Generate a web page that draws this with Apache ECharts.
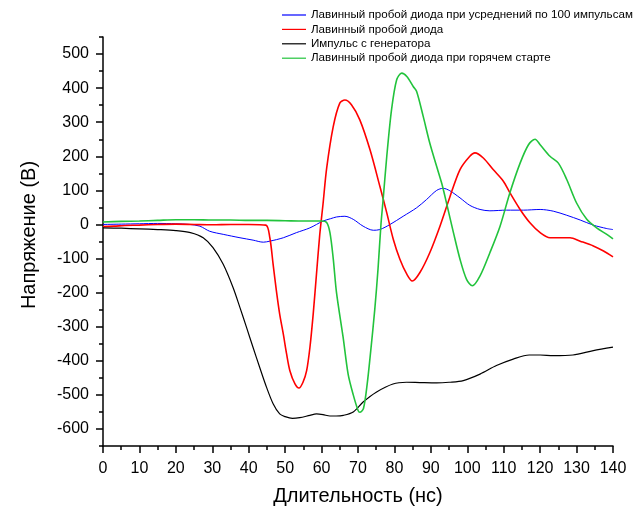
<!DOCTYPE html>
<html>
<head>
<meta charset="utf-8">
<script src="https://cdn.jsdelivr.net/npm/echarts@6/dist/echarts.min.js"></script>
<style>
  html, body { margin: 0; padding: 0; background: #fff; }
  #chart { width: 643px; height: 511px; }
</style>
</head>
<body>
<div id="chart"></div>
<script>
// Series names (legend order)
const seriesNames = [
  'Лавинный пробой диода при усреднений по 100 импульсам',
  'Лавинный пробой диода',
  'Импульс с генератора',
  'Лавинный пробой диода при горячем старте'
];

// Averaged avalanche breakdown (ns, V)
const avgTime = [0, 5, 10, 15, 20, 23.8, 26.6, 29.3, 33, 37.6,
  41.2, 44, 45.8, 49.5, 53.1, 56.8, 60.4, 62.5, 64.1, 66.4,
  68.7, 71.4, 74.2, 76, 78.8, 82.4, 86.1, 88.8, 91.6, 93.4,
  95.2, 98, 100.7, 103.5, 106.2, 110.8, 115.4, 120, 123.6, 127.3,
  131, 134.6, 138.3, 140];
const avgVolt = [0, 1, 2, 3, 2, 0, -5, -20, -29, -39,
  -46, -52, -49, -39, -24, -10, 10, 17, 22, 24,
  15, -5, -17, -15, 0, 24, 49, 73, 100, 106,
  99, 78, 56, 44, 40, 42, 42, 44, 39, 27,
  13, -2, -12, -15];

// Single-shot avalanche breakdown (ns, V)
const diodeTime = [0, 3, 6, 10, 15, 20, 25, 30, 35, 40,
  44.7, 45.8, 46.7, 47.6, 48.5, 49.5, 50.4, 51.3, 52.7, 53.8,
  54.9, 55.9, 56.8, 57.7, 58.6, 59.5, 60.4, 61.4, 63.2, 65,
  66.4, 68.2, 70.5, 73.3, 76, 77.9, 79.7, 81.5, 83.4, 84.9,
  87, 89.7, 92.5, 95.2, 98, 100.7, 102.1, 104.4, 107.1, 109.9,
  111.7, 114.5, 117.2, 120, 122.7, 125.5, 128.2, 131, 134.6, 137.4,
  140];
const diodeVolt = [-6, -5, -3, -2, 0, 1, 0, -1, 0, 0,
  -2, -39, -117, -195, -263, -322, -380, -429, -468, -480,
  -463, -429, -361, -263, -146, -30, 60, 165, 287, 356,
  365, 351, 307, 219, 112, 34, -44, -102, -146, -166,
  -141, -83, -5, 80, 161, 200, 210, 195, 161, 127,
  93, 44, 5, -24, -39, -39, -39, -49, -63, -78,
  -95];

// Generator pulse (ns, V)
const genTime = [0, 5, 10, 15, 20, 24, 27.5, 30.2, 33, 35.7,
  37.6, 39.4, 41.2, 43, 44.9, 46.7, 48.5, 50, 52, 54,
  56.8, 58.6, 60.4, 62.3, 64, 66, 68.7, 71.4, 75, 79.6,
  83.3, 87, 91.6, 95, 98.9, 103.5, 108, 112.6, 117, 120,
  123.6, 129, 134.6, 140];
const genVolt = [-10, -11, -13, -15, -18, -24, -39, -68, -117, -185,
  -244, -302, -361, -419, -478, -526, -556, -564, -569, -567,
  -560, -556, -558, -562, -562, -560, -550, -521, -492, -468,
  -463, -464, -465, -463, -458, -439, -414, -395, -383, -383,
  -385, -383, -370, -360];

// Hot-start avalanche breakdown (ns, V)
const hotTime = [0, 5, 10, 15, 20, 25, 30, 35, 40, 45,
  50, 55, 60, 61.4, 62.3, 63.2, 64.1, 65.9, 67.3, 68.7,
  70, 70.5, 71.5, 72.5, 73.5, 74.6, 75.5, 76.3, 76.9, 77.9,
  79.2, 80.6, 82, 83.4, 85.2, 86.1, 87.9, 89.7, 91.6, 93,
  94.3, 96.2, 98, 99.8, 101.4, 103.5, 106.2, 109, 111.7, 114.5,
  116.8, 118.6, 120, 122.7, 125, 127.3, 130, 132.8, 135.5, 138.3,
  140];
const hotVolt = [7, 9, 10, 12, 14, 14, 13, 13, 12, 12,
  11, 10, 10, 6, -24, -100, -200, -330, -440, -500,
  -545, -551, -540, -470, -370, -250, -130, 0, 73, 200,
  336, 424, 444, 434, 404, 390, 317, 239, 170, 120,
  63, -24, -102, -161, -180, -151, -83, -5, 93, 180,
  234, 250, 234, 200, 180, 132, 63, 15, -10, -29,
  -42];

// Axis ticks
const yMajorTicks = [-600, -500, -400, -300, -200, -100, 0, 100, 200, 300, 400, 500];
const yMinorTicks = [-650, -550, -450, -350, -250, -150, -50, 50, 150, 250, 350, 450, 550];

const zip = (xs, ys) => xs.map((x, i) => [x, ys[i]]);
const FONT = "'Liberation Sans', Arial, sans-serif";

const chart = echarts.init(document.getElementById('chart'), null, { renderer: 'canvas' });

const lineSeries = (name, data, color, width) => ({
  name,
  type: 'line',
  data,
  symbol: 'none',
  showSymbol: false,
  smooth: 0.3,
  lineStyle: { color, width },
  itemStyle: { color },
  emphasis: { disabled: true },
  animation: false
});

chart.setOption({
  animation: false,
  backgroundColor: '#fff',
  grid: { left: 103, right: 30, top: 37, bottom: 64, containLabel: false },
  legend: {
    data: seriesNames,
    orient: 'vertical',
    left: 282,
    top: 9,
    padding: 0,
    icon: 'rect',
    itemWidth: 24,
    itemHeight: 1.2,
    itemGap: 2.4,
    selectedMode: false,
    textStyle: { fontSize: 11.6, color: '#000', fontFamily: FONT, lineHeight: 12 }
  },
  xAxis: {
    type: 'value',
    min: 0,
    max: 140,
    interval: 10,
    name: 'Длительность (нс)',
    nameLocation: 'middle',
    nameGap: 40,
    nameTextStyle: { fontSize: 20, color: '#000', fontFamily: FONT },
    axisLine: { show: true, onZero: false, lineStyle: { color: '#000', width: 1.5 } },
    axisTick: { show: true, length: 7, lineStyle: { color: '#000', width: 1.5 } },
    minorTick: { show: true, splitNumber: 2, length: 4, lineStyle: { color: '#000', width: 1.5 } },
    axisLabel: { fontSize: 16, color: '#000', fontFamily: FONT, margin: 15 },
    splitLine: { show: false }
  },
  yAxis: [
    {
      type: 'value',
      min: -650,
      max: 550,
      position: 'left',
      name: 'Напряжение (В)',
      nameLocation: 'middle',
      nameGap: 64,
      nameTextStyle: { fontSize: 20, color: '#000', fontFamily: FONT, padding: [0, 0, 0, 13] },
      axisLine: { show: true, onZero: false, lineStyle: { color: '#000', width: 1.5 } },
      axisTick: { show: true, length: 7, customValues: yMajorTicks, lineStyle: { color: '#000', width: 1.5 } },
      axisLabel: { customValues: yMajorTicks, fontSize: 16, color: '#000', fontFamily: FONT, margin: 14 },
      splitLine: { show: false }
    },
    {
      type: 'value',
      min: -650,
      max: 550,
      position: 'left',
      axisLine: { show: false, onZero: false },
      axisTick: { show: true, length: 4, customValues: yMinorTicks, lineStyle: { color: '#000', width: 1.5 } },
      axisLabel: { show: false },
      splitLine: { show: false }
    }
  ],
  series: [
    lineSeries(seriesNames[0], zip(avgTime, avgVolt), '#0000ff', 1),
    lineSeries(seriesNames[1], zip(diodeTime, diodeVolt), '#ff0000', 1.6),
    lineSeries(seriesNames[2], zip(genTime, genVolt), '#000000', 1.2),
    lineSeries(seriesNames[3], zip(hotTime, hotVolt), '#22c33c', 1.6)
  ]
});
</script>
</body>
</html>
